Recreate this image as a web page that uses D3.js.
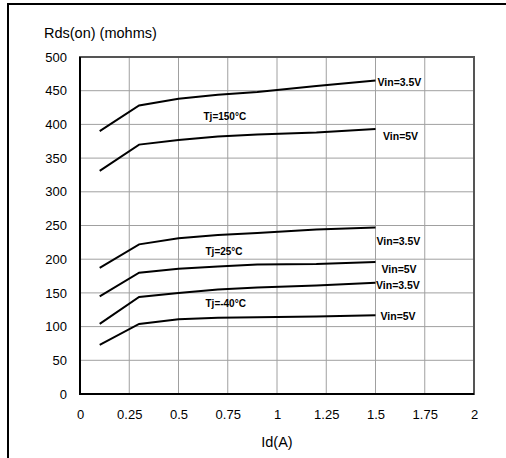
<!DOCTYPE html>
<html><head><meta charset="utf-8">
<script src="https://cdn.jsdelivr.net/npm/d3@7"></script>
<style>body{margin:0;background:#fff;}svg{display:block;font-family:"Liberation Sans",Arial,sans-serif;}</style>
</head><body><svg id="c" width="506" height="458"></svg>
<script>
const idValues = [0.1, 0.3, 0.5, 0.7, 0.9, 1.2, 1.5];
const tj150Vin35 = [390, 428, 438, 444, 448, 457, 465];
const tj150Vin5  = [331, 370, 377, 382, 385, 388, 393];
const tj25Vin35  = [187, 222, 231, 236, 239, 244, 247];
const tj25Vin5   = [145, 180, 186, 189, 192, 193, 196];
const tjm40Vin35 = [104, 144, 150, 155, 158, 161, 165];
const tjm40Vin5  = [73, 104, 111, 113, 114, 115, 117];
const xTicks = [0, 0.25, 0.5, 0.75, 1, 1.25, 1.5, 1.75, 2];
const yTicks = [0, 50, 100, 150, 200, 250, 300, 350, 400, 450, 500];
const seriesLabels = ["Vin=3.5V", "Vin=5V", "Vin=3.5V", "Vin=5V", "Vin=3.5V", "Vin=5V"];
const tempLabels = ["Tj=150°C", "Tj=25°C", "Tj=-40°C"];

const svg = d3.select("#c");
const L = 80, R = 474, T = 57, B = 394;
const x = d3.scaleLinear().domain([0, 2]).range([L, R]);
const y = d3.scaleLinear().domain([0, 500]).range([B, T]);

// outer frame
svg.append("path").attr("d", "M8,470 V4 H520").attr("fill", "none").attr("stroke", "#000").attr("stroke-width", 2);

// grid
svg.append("g").selectAll("line").data(xTicks.slice(1, -1)).join("line")
  .attr("x1", d => x(d)).attr("x2", d => x(d)).attr("y1", T).attr("y2", B)
  .attr("stroke", "#a0a0a0").attr("stroke-width", 1);
svg.append("g").selectAll("line").data(yTicks.slice(1, -1)).join("line")
  .attr("y1", d => y(d)).attr("y2", d => y(d)).attr("x1", L).attr("x2", R)
  .attr("stroke", "#a0a0a0").attr("stroke-width", 1);

// plot border
svg.append("rect").attr("x", L).attr("y", T).attr("width", R - L).attr("height", B - T)
  .attr("fill", "none").attr("stroke", "#555").attr("stroke-width", 2);
svg.append("path").attr("d", `M${L},${T} V${B} H${R}`).attr("fill", "none").attr("stroke", "#000").attr("stroke-width", 2);

// axes
const xAxis = d3.axisBottom(x).tickValues(xTicks).tickSize(0).tickPadding(16).tickFormat(d => String(d));
const gx = svg.append("g").attr("transform", `translate(0,${B})`).call(xAxis);
gx.select(".domain").remove();
gx.selectAll("text").attr("font-size", 13).attr("fill", "#000").attr("font-family", "Liberation Sans, Arial, sans-serif");
const yAxis = d3.axisLeft(y).tickValues(yTicks).tickSize(0).tickPadding(13).tickFormat(d => String(d));
const gy = svg.append("g").attr("transform", `translate(${L},0)`).call(yAxis);
gy.select(".domain").remove();
gy.selectAll("text").attr("font-size", 13).attr("fill", "#000").attr("font-family", "Liberation Sans, Arial, sans-serif");

// axis titles
svg.append("text").attr("x", 44).attr("y", 38).attr("font-size", 14.5).text("Rds(on) (mohms)");
svg.append("text").attr("x", (L + R) / 2).attr("y", 447).attr("text-anchor", "middle").attr("font-size", 14.5).text("Id(A)");

// lines
const series = [tj150Vin35, tj150Vin5, tj25Vin35, tj25Vin5, tjm40Vin35, tjm40Vin5];
const line = d3.line().x((d, i) => x(idValues[i])).y(d => y(d));
svg.append("g").selectAll("path").data(series).join("path")
  .attr("d", d => line(d)).attr("fill", "none").attr("stroke", "#000").attr("stroke-width", 2);

// series labels (offsets in px relative to line ends)
const labelOffsets = [[2, 5], [7.5, 10.5], [1, 17], [6, 11], [0.5, 6], [5, 4.5]];
svg.append("g").selectAll("text").data(series).join("text")
  .attr("x", (d, i) => x(1.5) + labelOffsets[i][0])
  .attr("y", (d, i) => y(d[d.length - 1]) + labelOffsets[i][1])
  .attr("font-size", 10.5).attr("font-weight", "bold")
  .text((d, i) => seriesLabels[i]);

// temperature labels
const tempPos = [[203.5, 119.5], [205.5, 254.5], [205.5, 307]];
svg.append("g").selectAll("text").data(tempLabels).join("text")
  .attr("x", (d, i) => tempPos[i][0])
  .attr("y", (d, i) => tempPos[i][1])
  .attr("font-size", 10).attr("font-weight", "bold")
  .text(d => d);
</script></body></html>
